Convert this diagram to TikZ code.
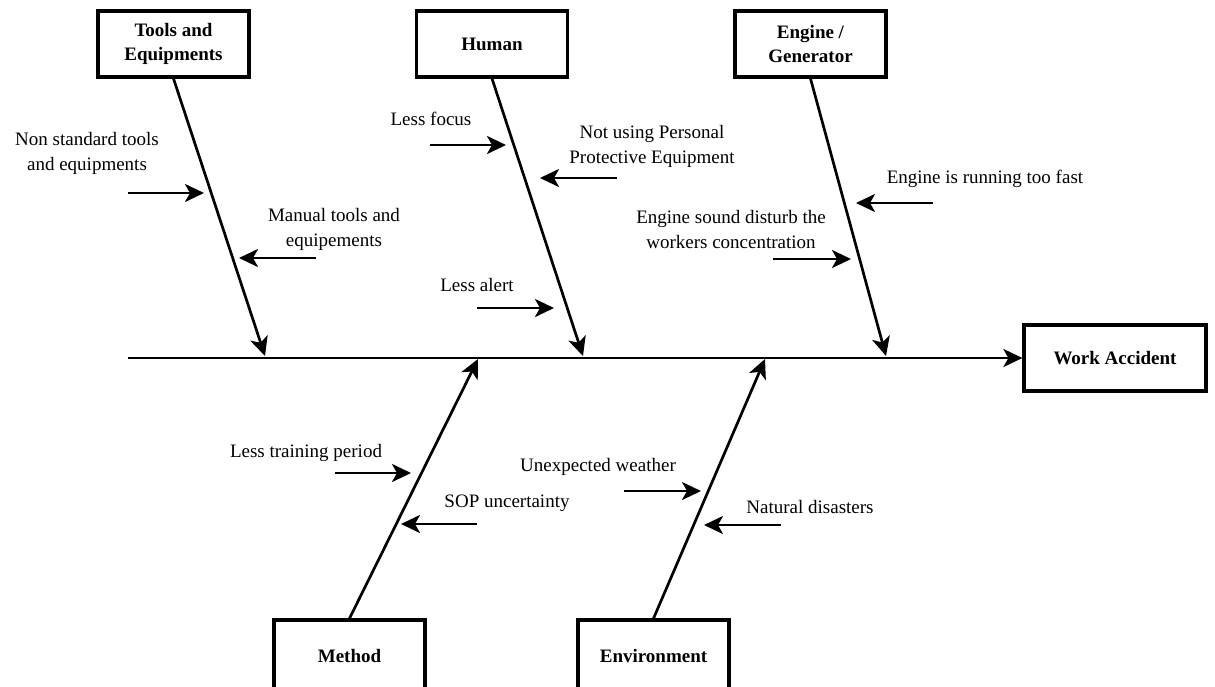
\documentclass[tikz,border=0pt]{standalone}
\usepackage{fontspec}
\setmainfont{Liberation Serif}
\usetikzlibrary{arrows.meta}
\begin{document}
\begin{tikzpicture}[x=1pt,y=-1pt,
  causebox/.style={draw=black,line width=3.2pt,fill=white,minimum width=151pt,minimum height=66pt,
    inner sep=2pt,align=center,font=\fontsize{19}{24}\selectfont\bfseries},
  bone/.style={line width=2.7pt,-{Stealth[length=19pt,width=18pt,inset=5pt]}},
  twig/.style={line width=2.7pt,-{Stealth[length=19pt,width=18pt,inset=5pt]}},
  lbl/.style={align=center,inner sep=0pt,font=\fontsize{19}{25}\selectfont}]
\useasboundingbox (0,0) rectangle (1215,686);
\clip (0,0) rectangle (1215,686);
\fill[white] (0,0) rectangle (1215,686);

% category boxes
\node[causebox] (tools) at (173.5,44) {Tools and\\Equipments};
\node[causebox] (human) at (492,44) {Human};
\node[causebox] (engine) at (810.5,44) {Engine /\\Generator};
\node[causebox,minimum height=72pt] (method) at (349.5,656) {Method};
\node[causebox,minimum height=72pt] (env) at (653.5,656) {Environment};
\node[causebox,minimum width=182pt] (effect) at (1115,358) {Work Accident};

% spine
\coordinate (spine) at (128,358);
\draw[bone] (spine) -- (effect.west);

% bone end points on the spine
\coordinate (tE) at (265,356);
\coordinate (hE) at (583,356);
\coordinate (eE) at (886,356);
\coordinate (mE) at (478,359);
\coordinate (vE) at (765,359);
\draw[bone] (tools.south) -- (tE);
\draw[bone] (human.south) -- (hE);
\draw[bone] (engine.south) -- (eE);
\draw[bone] (method.north) -- (mE);
\draw[bone] (env.north) -- (vE);

% causes
\node[lbl] (t1) at (87,153) {Non standard tools\\and equipments};
\coordinate (t1a) at (128,193); \coordinate (t1b) at (204,193);
\draw[twig] (t1a) -- (t1b);
\node[lbl] (t2) at (334,229) {Manual tools and\\equipements};
\coordinate (t2a) at (316,258); \coordinate (t2b) at (239,258);
\draw[twig] (t2a) -- (t2b);

\node[lbl] (h1) at (431,119) {Less focus};
\coordinate (h1a) at (430,145); \coordinate (h1b) at (506,145);
\draw[twig] (h1a) -- (h1b);
\node[lbl] (h2) at (652,146) {Not using Personal\\Protective Equipment};
\coordinate (h2a) at (617,178); \coordinate (h2b) at (540,178);
\draw[twig] (h2a) -- (h2b);
\node[lbl] (h3) at (477,285) {Less alert};
\coordinate (h3a) at (477,308); \coordinate (h3b) at (554,308);
\draw[twig] (h3a) -- (h3b);

\node[lbl] (e1) at (985,179) {Engine is running too fast};
\coordinate (e1a) at (933,203); \coordinate (e1b) at (856,203);
\draw[twig] (e1a) -- (e1b);
\node[lbl] (e2) at (731,229) {Engine sound disturb the\\workers concentration};
\coordinate (e2a) at (773,259); \coordinate (e2b) at (851,259);
\draw[twig] (e2a) -- (e2b);

\node[lbl] (m1) at (306,453) {Less training period};
\coordinate (m1a) at (335,473); \coordinate (m1b) at (411,473);
\draw[twig] (m1a) -- (m1b);
\node[lbl] (m2) at (507,503) {SOP uncertainty};
\coordinate (m2a) at (477,524); \coordinate (m2b) at (401,524);
\draw[twig] (m2a) -- (m2b);

\node[lbl] (v1) at (598,467) {Unexpected weather};
\coordinate (v1a) at (624,491); \coordinate (v1b) at (701,491);
\draw[twig] (v1a) -- (v1b);
\node[lbl] (v2) at (810,507) {Natural disasters};
\coordinate (v2a) at (781,525); \coordinate (v2b) at (704,525);
\draw[twig] (v2a) -- (v2b);
\end{tikzpicture}
\end{document}
